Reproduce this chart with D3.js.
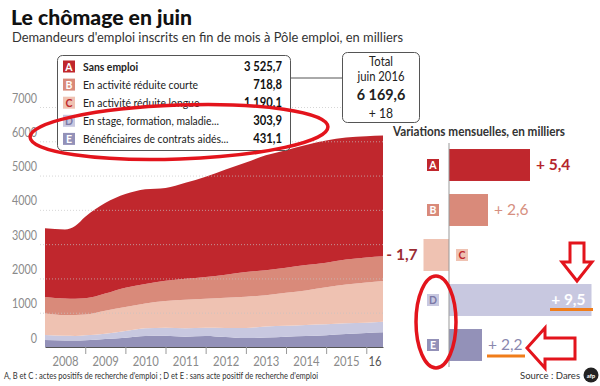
<!DOCTYPE html>
<html>
<head>
<meta charset="utf-8">
<script src="https://cdn.jsdelivr.net/npm/d3@7"></script>
<style>
  body { margin: 0; background: #fff; }
  svg { display: block; font-family: Lato, "Open Sans", sans-serif; }
</style>
</head>
<body>
<svg id="chart" width="600" height="386"></svg>
<script>
// monthly readings (thousands), Jan 2008 -> Jun 2016
var months = ["2008-01","2008-07","2008-10","2009-01","2009-07","2010-01","2010-07","2011-01","2011-07",
              "2012-01","2012-07","2013-01","2013-07","2014-01","2014-07","2015-01","2015-07","2016-01","2016-06"];
var catA = [2000,2015,2120,2380,2640,2730,2760,2710,2800,2926,3070,3190,3350,3430,3500,3560,3560,3540,3525.7];
var catB = [480,480,475,475,500,560,570,590,615,635,675,725,730,730,740,720,730,730,718.8];
var catC = [630,610,613,605,670,700,720,775,830,845,880,910,910,960,1005,1075,1130,1170,1190.1];
var catD = [145,135,134,145,160,200,230,240,245,240,265,295,325,320,325,320,310,300,303.9];
var catE = [205,190,188,195,230,270,320,325,300,320,290,260,275,300,320,345,380,410,431.1];

var categories = ["A","B","C","D","E"];
var catLabels = ["Sans emploi","En activité réduite courte","En activité réduite longue",
                 "En stage, formation, maladie...","Bénéficiaires de contrats aidés..."];
var variations = [5.4, 2.6, -1.7, 9.5, 2.2];
var yTicks = [0,1000,2000,3000,4000,5000,6000,7000];
var yearLabels = ["2008","2009","2010","2011","2012","2013","2014","2015","16"];

var areaColors = {A:"#c0272d", B:"#d98a7a", C:"#efc2b2", D:"#c8c8e0", E:"#9391b8"};
var badgeText = {A:"#fff", B:"#fff", C:"#c0272d", D:"#7b79a6", E:"#fff"};
var valueColors = {A:"#b5252c", B:"#d68f80", C:"#9b2c33", D:"#ffffff", E:"#8a88ae"};
var valueWeight = {A:"bold", B:"normal", C:"bold", D:"bold", E:"normal"};

var svg = d3.select("#chart");
var parse = d3.timeParse("%Y-%m");
var fr = d3.formatLocale({decimal: ",", thousands: " ", grouping: [3], currency: ["", ""]});
var fmtVal = fr.format(",.1f");

// the original face is narrower than Lato: squeeze glyphs a bit
function condense(sel, f) {
  sel.each(function () {
    var w = this.getComputedTextLength();
    d3.select(this).attr("textLength", w * f).attr("lengthAdjust", "spacingAndGlyphs");
  });
}

var series = {A: catA, B: catB, C: catC, D: catD, E: catE};
var rows = months.map(function (m, i) {
  return {date: parse(m), A: catA[i], B: catB[i], C: catC[i], D: catD[i], E: catE[i]};
});
var last = months.length - 1;

// titles
svg.append("text").attr("x", 11).attr("y", 25)
  .attr("font-size", 21).attr("font-weight", 900).attr("fill", "#111")
  .attr("textLength", 181).attr("lengthAdjust", "spacingAndGlyphs")
  .text("Le chômage en juin");
svg.append("text").attr("x", 12).attr("y", 42)
  .attr("font-size", 13).attr("fill", "#333")
  .attr("textLength", 391).attr("lengthAdjust", "spacingAndGlyphs")
  .text("Demandeurs d'emploi inscrits en fin de mois à Pôle emploi, en milliers");

// stacked area
var x = d3.scaleTime()
  .domain([parse("2008-01"), parse("2016-06")])
  .range([45, 383]);
var y = d3.scaleLinear().domain([0, 7000]).range([347, 107]);

var stack = d3.stack().keys(["E","D","C","B","A"]);
var layers = stack(rows);

var area = d3.area()
  .x(function (d) { return x(d.data.date); })
  .y0(function (d) { return y(d[0]); })
  .y1(function (d) { return y(d[1]); })
  .curve(d3.curveMonotoneX);

svg.append("g").selectAll("path")
  .data(layers)
  .join("path")
  .attr("d", area)
  .attr("fill", function (d) { return areaColors[d.key]; });

// gridlines over the areas
var grid = svg.append("g").attr("transform", "translate(40,0)")
  .call(d3.axisLeft(y).tickValues(yTicks.slice(1)).tickSize(-345).tickFormat(""));
grid.select(".domain").remove();
grid.selectAll("line").attr("stroke", "#c4c4c4").attr("stroke-dasharray", "1,2").attr("opacity", 0.7);

var yAxis = svg.append("g").attr("transform", "translate(37,-9)")
  .call(d3.axisLeft(y).tickValues(yTicks).tickSize(0).tickPadding(0).tickFormat(d3.format("d")));
yAxis.select(".domain").remove();
yAxis.selectAll("text").attr("font-size", 12.5).attr("fill", "#8a8a8a")
  .attr("font-family", "Lato, sans-serif");
condense(yAxis.selectAll("text"), 0.86);

// x axis
var yearStarts = d3.range(2009, 2017).map(function (yr) { return new Date(yr, 0, 1); });
var xTicks = svg.append("g").attr("transform", "translate(0,347)")
  .call(d3.axisBottom(x).tickValues(yearStarts).tickSize(7).tickSizeOuter(0).tickFormat(""));
xTicks.select(".domain").attr("stroke", "#555");
xTicks.selectAll("line").attr("stroke", "#999");

var yearMids = d3.range(2008, 2016).map(function (yr) { return new Date(yr, 6, 1); });
yearMids.push(new Date(2016, 2, 15));
var xLabels = svg.append("g").attr("transform", "translate(0,347)")
  .call(d3.axisBottom(x).tickValues(yearMids).tickSize(0).tickPadding(10)
    .tickFormat(function (d, i) { return yearLabels[i]; }));
xLabels.select(".domain").remove();
xLabels.selectAll("text").attr("font-size", 12.5).attr("fill", "#8a8a8a")
  .attr("font-family", "Lato, sans-serif");
xLabels.selectAll("text").filter(function (d, i) { return i === yearLabels.length - 1; })
  .attr("fill", "#555");
condense(xLabels.selectAll("text"), 0.9);

// legend box
svg.append("line").attr("x1", 290).attr("x2", 342).attr("y1", 78).attr("y2", 78)
  .attr("stroke", "#555");
svg.append("rect").attr("x", 57.5).attr("y", 55.5).attr("width", 233).attr("height", 95)
  .attr("rx", 5).attr("fill", "#fff").attr("stroke", "#555");

var leg = svg.append("g").selectAll("g")
  .data(categories)
  .join("g")
  .attr("transform", function (d, i) { return "translate(0," + (66.5 + i * 18.1) + ")"; });
leg.append("rect").attr("x", 63).attr("y", -6).attr("width", 12).attr("height", 12)
  .attr("fill", function (d) { return areaColors[d]; });
leg.append("text").attr("x", 69).attr("y", 4).attr("text-anchor", "middle")
  .attr("font-size", 10.5).attr("font-weight", "bold")
  .attr("fill", function (d) { return badgeText[d]; })
  .text(function (d) { return d; });
var legLabels = leg.append("text").attr("x", 83).attr("y", 4.5).attr("font-size", 11.3)
  .attr("fill", "#222")
  .attr("font-weight", function (d, i) { return i === 0 ? "bold" : "normal"; })
  .text(function (d, i) { return catLabels[i]; });
condense(legLabels, 0.92);
var legValues = leg.append("text").attr("x", 282).attr("y", 4.5).attr("text-anchor", "end")
  .attr("font-size", 12.5).attr("font-weight", "bold").attr("fill", "#111")
  .text(function (d) { return fmtVal(series[d][last]); });
condense(legValues, 0.9);

// total box
var total = d3.sum(categories, function (c) { return series[c][last]; });
var totalVar = d3.sum(variations);
svg.append("rect").attr("x", 342.5).attr("y", 52.5).attr("width", 77).attr("height", 70)
  .attr("rx", 5).attr("fill", "#fff").attr("stroke", "#555");
var tb = svg.append("g").attr("text-anchor", "middle").attr("fill", "#222");
tb.append("text").attr("x", 381).attr("y", 66).attr("font-size", 12.5).text("Total");
tb.append("text").attr("x", 381).attr("y", 80.5).attr("font-size", 12.5).text("juin 2016");
tb.append("text").attr("x", 381).attr("y", 99.5).attr("font-size", 16).attr("font-weight", "bold")
  .text(fmtVal(total));
tb.append("text").attr("x", 381).attr("y", 117.5).attr("font-size", 13.5)
  .text((totalVar >= 0 ? "+ " : "- ") + fr.format(".0f")(Math.abs(totalVar)));
condense(tb.selectAll("text"), 0.9);

// monthly variations
svg.append("text").attr("x", 393).attr("y", 136).attr("font-size", 12.5).attr("font-weight", "bold")
  .attr("fill", "#333").attr("textLength", 172).attr("lengthAdjust", "spacingAndGlyphs")
  .text("Variations mensuelles, en milliers");

var xv = d3.scaleLinear().domain([0, 9.5]).range([449, 591.5]);
var yv = d3.scaleBand().domain(categories).range([142.5, 367.5])
  .paddingInner(0.29).paddingOuter(0.145);

var bars = svg.append("g").selectAll("g")
  .data(categories)
  .join("g")
  .attr("transform", function (d) { return "translate(0," + yv(d) + ")"; });
bars.append("rect")
  .attr("x", function (d, i) { return xv(Math.min(0, variations[i])); })
  .attr("width", function (d, i) { return Math.abs(xv(variations[i]) - xv(0)); })
  .attr("height", yv.bandwidth())
  .attr("fill", function (d) { return areaColors[d]; });

var bw = yv.bandwidth();
bars.append("rect")
  .attr("x", function (d, i) { return variations[i] < 0 ? xv(0) + 7 : xv(0) - 22; })
  .attr("y", bw / 2 - 6).attr("width", 12).attr("height", 12)
  .attr("fill", function (d) { return areaColors[d]; });
bars.append("text")
  .attr("x", function (d, i) { return variations[i] < 0 ? xv(0) + 13 : xv(0) - 16; })
  .attr("y", bw / 2 + 4).attr("text-anchor", "middle")
  .attr("font-size", 10.5).attr("font-weight", "bold")
  .attr("fill", function (d) { return badgeText[d]; })
  .text(function (d) { return d; });

bars.append("text")
  .attr("x", function (d, i) {
    var v = variations[i];
    if (v < 0) return xv(v) - 6;
    if (d === "D") return xv(v) - 6;
    return xv(v) + 6;
  })
  .attr("text-anchor", function (d, i) { return (variations[i] < 0 || d === "D") ? "end" : "start"; })
  .attr("y", bw / 2 + 5.5)
  .attr("font-size", 15.5)
  .attr("font-weight", function (d) { return valueWeight[d]; })
  .attr("fill", function (d) { return valueColors[d]; })
  .text(function (d, i) {
    var v = variations[i];
    return (v >= 0 ? "+ " : "- ") + fr.format(".1f")(Math.abs(v));
  });

svg.append("line").attr("x1", xv(0)).attr("x2", xv(0)).attr("y1", 143).attr("y2", 367)
  .attr("stroke", "#999");

// footer
svg.append("text").attr("x", 4).attr("y", 379).attr("font-size", 9).attr("fill", "#333")
  .attr("textLength", 314).attr("lengthAdjust", "spacingAndGlyphs")
  .text("A, B et C : actes positifs de recherche d'emploi ; D et E : sans acte positif de recherche d'emploi");
svg.append("text").attr("x", 580).attr("y", 379).attr("text-anchor", "end")
  .attr("font-size", 9.5).attr("fill", "#333").text("Source : Dares");
svg.append("circle").attr("cx", 591).attr("cy", 375).attr("r", 7.5).attr("fill", "#222");
svg.append("text").attr("x", 591).attr("y", 377.5).attr("text-anchor", "middle")
  .attr("font-size", 6).attr("font-weight", "bold").attr("fill", "#fff").text("afp");

// hand-drawn highlights
var hl = svg.append("g").attr("fill", "none").attr("stroke", "#e3141c").attr("stroke-width", 3.5);
hl.append("ellipse").attr("cx", 179).attr("cy", 132).attr("rx", 149).attr("ry", 27)
  .attr("transform", "rotate(-2,179,132)");
hl.append("ellipse").attr("cx", 436).attr("cy", 322).attr("rx", 20).attr("ry", 46);
hl.append("polygon").attr("fill", "#fff").attr("stroke-width", 3)
  .attr("points", "570,243 584,243 584,262 592,262 577,281 562,262 570,262");
hl.append("polygon").attr("fill", "#fff").attr("stroke-width", 3)
  .attr("points", "527,348 545,328 545,338 575,338 575,359 545,359 545,368");

var ul = svg.append("g").attr("stroke", "#f07d1a").attr("stroke-width", 3);
ul.append("line").attr("x1", 550).attr("x2", 593).attr("y1", 309.5).attr("y2", 309.5);
ul.append("line").attr("x1", 487).attr("x2", 525).attr("y1", 356).attr("y2", 356);
</script>
</body>
</html>
